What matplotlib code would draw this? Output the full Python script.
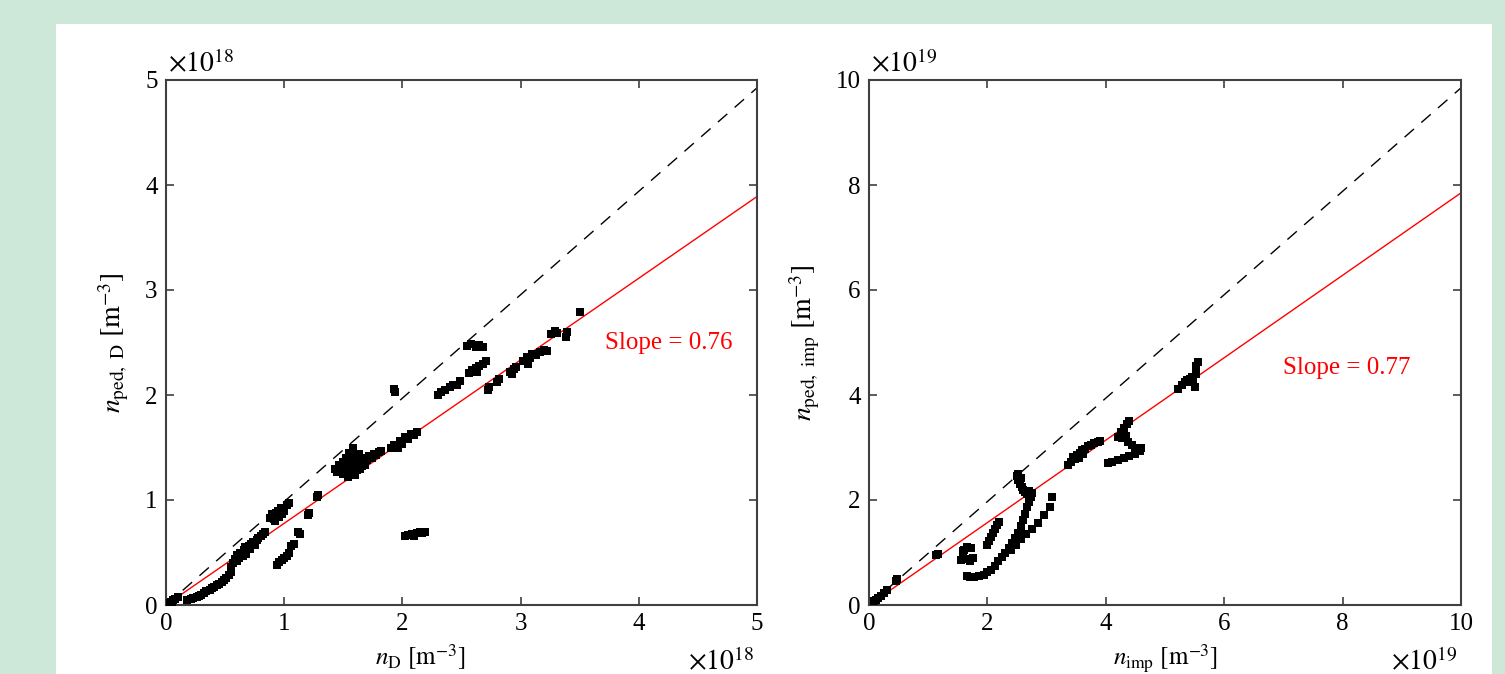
import matplotlib
matplotlib.use("Agg")
import matplotlib.pyplot as plt
from matplotlib.patches import Rectangle
import numpy as np

plt.rcParams['font.family'] = ['Liberation Serif', 'DejaVu Serif']
plt.rcParams['mathtext.fontset'] = 'stix'

# ---------------- data (left panel, units of 1e18 m^-3) ----------------
left_x = [0.02, 0.04, 0.06, 0.08, 0.10, 0.05,
          0.18, 0.21, 0.23, 0.26, 0.28, 0.30, 0.32, 0.34, 0.37, 0.39, 0.41, 0.43, 0.45, 0.47, 0.49, 0.51, 0.53, 0.55,
          0.55, 0.57, 0.58, 0.60, 0.60, 0.62, 0.63, 0.65, 0.66, 0.67, 0.68, 0.70, 0.71, 0.72, 0.74, 0.75, 0.77, 0.78, 0.80, 0.82, 0.84,
          0.88, 0.90, 0.91, 0.93, 0.94, 0.95, 0.96, 0.97, 0.98, 1.00, 1.02, 1.04, 0.92,
          0.94, 0.96, 0.98, 1.00, 1.02, 1.04, 1.06, 1.08, 1.12, 1.13, 1.20, 1.21, 1.28, 1.29,
          1.43, 1.45, 1.46, 1.48, 1.50, 1.50, 1.52, 1.53, 1.54, 1.55, 1.55, 1.57, 1.58, 1.58, 1.60, 1.60, 1.62, 1.63, 1.64, 1.65,
          1.67, 1.68, 1.70, 1.72, 1.74, 1.76, 1.78, 1.80, 1.82, 1.56, 1.62, 1.66,
          1.90, 1.93, 1.96, 1.98, 2.00, 2.02, 2.05, 2.07, 2.10, 2.12,
          1.94, 1.93,
          2.02, 2.05, 2.08, 2.10, 2.12, 2.15, 2.17, 2.19,
          2.30, 2.33, 2.36, 2.40, 2.43, 2.46, 2.49,
          2.55, 2.58, 2.62, 2.65, 2.68,
          2.56, 2.59, 2.62, 2.65, 2.68, 2.71, 2.63,
          2.72, 2.73, 2.80, 2.82,
          2.91, 2.94, 2.96, 2.93,
          3.02, 3.05, 3.08, 3.10, 3.13, 3.16, 3.20, 3.22, 3.06,
          3.26, 3.29, 3.31, 3.38, 3.39,
          3.50]
left_y = [0.02, 0.03, 0.05, 0.06, 0.08, 0.02,
          0.05, 0.06, 0.07, 0.08, 0.09, 0.10, 0.11, 0.13, 0.14, 0.16, 0.17, 0.19, 0.20, 0.22, 0.24, 0.26, 0.29, 0.31,
          0.36, 0.40, 0.44, 0.42, 0.48, 0.45, 0.50, 0.47, 0.52, 0.55, 0.49, 0.56, 0.53, 0.58, 0.60, 0.57, 0.62, 0.64, 0.66, 0.68, 0.70,
          0.83, 0.87, 0.82, 0.88, 0.85, 0.90, 0.84, 0.92, 0.87, 0.90, 0.95, 0.97, 0.80,
          0.38, 0.41, 0.43, 0.45, 0.47, 0.50, 0.56, 0.58, 0.70, 0.68, 0.86, 0.88, 1.03, 1.05,
          1.30, 1.27, 1.33, 1.30, 1.25, 1.36, 1.40, 1.30, 1.22, 1.45, 1.35, 1.28, 1.42, 1.50, 1.32, 1.24, 1.38, 1.44, 1.30, 1.36,
          1.40, 1.33, 1.38, 1.42, 1.40, 1.44, 1.43, 1.46, 1.47, 1.26, 1.29, 1.32,
          1.50, 1.52, 1.50, 1.56, 1.53, 1.60, 1.58, 1.63, 1.62, 1.65,
          2.03, 2.06,
          0.66, 0.67, 0.68, 0.66, 0.69, 0.70, 0.69, 0.70,
          2.00, 2.03, 2.05, 2.08, 2.10, 2.10, 2.13,
          2.47, 2.49, 2.46, 2.48, 2.46,
          2.21, 2.24, 2.26, 2.28, 2.30, 2.32, 2.22,
          2.05, 2.08, 2.12, 2.15,
          2.22, 2.25, 2.27, 2.20,
          2.32, 2.36, 2.35, 2.39, 2.38, 2.41, 2.43, 2.42, 2.30,
          2.58, 2.61, 2.59, 2.55, 2.60,
          2.79]

# ---------------- data (right panel, units of 1e19 m^-3) ----------------
right_x = [0.08, 0.15, 0.20, 0.25, 0.30, 0.12,
           0.45, 0.48, 1.14, 1.17,
           1.55, 1.58, 1.60, 1.65, 1.72, 1.62, 1.70, 1.75, 1.58,
           1.65, 1.70, 1.78, 1.86, 1.94, 2.00, 2.06, 2.12, 2.18, 2.24, 2.30, 2.36, 2.42, 2.47, 2.52, 2.56, 2.60, 2.64, 2.67, 2.70, 2.73, 2.75,
           2.40, 2.48, 2.56, 2.65, 2.75, 2.85, 2.95, 3.05, 3.09,
           2.00, 2.03, 2.06, 2.10, 2.13, 2.16, 2.20,
           2.50, 2.52, 2.55, 2.58, 2.60, 2.63, 2.67, 2.70, 2.52, 2.56,
           3.36, 3.42, 3.48, 3.52, 3.56, 3.60, 3.65, 3.70, 3.75, 3.80, 3.86, 3.90, 3.45, 3.55, 3.62,
           4.20, 4.25, 4.30, 4.35, 4.40, 4.28, 4.34, 4.38, 4.44, 4.50, 4.56, 4.60, 4.58, 4.50, 4.40, 4.30, 4.20, 4.10, 4.04,
           5.22, 5.28, 5.33, 5.38, 5.42, 5.48, 5.50, 5.52, 5.53, 5.55, 5.45]
right_y = [0.07, 0.13, 0.18, 0.22, 0.28, 0.10,
           0.46, 0.50, 0.95, 0.97,
           0.85, 0.95, 1.05, 1.10, 1.08, 0.88, 0.84, 0.90, 1.02,
           0.55, 0.53, 0.54, 0.56, 0.58, 0.62, 0.66, 0.74, 0.83, 0.92, 1.00, 1.08, 1.18, 1.28, 1.38, 1.50, 1.62, 1.74, 1.86, 1.96, 2.06, 2.13,
           1.05, 1.15, 1.25, 1.35, 1.45, 1.57, 1.71, 1.87, 2.06,
           1.15, 1.22, 1.30, 1.38, 1.45, 1.52, 1.58,
           2.45, 2.38, 2.30, 2.25, 2.20, 2.15, 2.12, 2.18, 2.50, 2.42,
           2.66, 2.72, 2.78, 2.85, 2.90, 2.95, 2.98, 3.02, 3.05, 3.08, 3.10, 3.12, 2.82, 2.80, 2.88,
           3.20, 3.30, 3.38, 3.45, 3.50, 3.18, 3.22, 3.10, 3.05, 3.00, 2.97, 3.00, 2.93, 2.88, 2.83, 2.80, 2.76, 2.72, 2.70,
           4.12, 4.20, 4.25, 4.28, 4.30, 4.25, 4.15, 4.40, 4.55, 4.62, 4.35]

left_lim = 5
right_lim = 10
left_slope_drawn = 0.778
right_slope_drawn = 0.785
left_label = "Slope = 0.76"
right_label = "Slope = 0.77"
left_ticks = [0, 1, 2, 3, 4, 5]
right_ticks = [0, 2, 4, 6, 8, 10]

W, H = 1505, 674
fig = plt.figure(figsize=(W / 100, H / 100), dpi=100)
fig.patch.set_facecolor('#cde8d8')
fig.patches.append(Rectangle((56 / W, 0), (1492 - 56) / W, (H - 24) / H,
                             transform=fig.transFigure, facecolor='white',
                             edgecolor='none', zorder=-5))

spine_col = '#404040'


def style(ax, lim, ticks):
    ax.set_xlim(0, lim)
    ax.set_ylim(0, lim)
    ax.set_xticks(ticks)
    ax.set_yticks(ticks)
    ax.set_xticklabels([str(t) for t in ticks])
    ax.set_yticklabels([str(t) for t in ticks])
    ax.tick_params(direction='in', top=True, right=True, length=6, width=1.2,
                   color=spine_col, labelsize=18, pad=6)
    for s in ax.spines.values():
        s.set_color(spine_col)
        s.set_linewidth(1.5)
    ax.set_facecolor('white')


axL = fig.add_axes([166 / W, 1 - 605 / H, 591 / W, 525 / H])
axR = fig.add_axes([869 / W, 1 - 605 / H, 592 / W, 525 / H])
axL.set_zorder(2)
axR.set_zorder(2)

for ax, xs, ys, lim, slope, ticks in [(axL, left_x, left_y, left_lim, left_slope_drawn, left_ticks),
                                     (axR, right_x, right_y, right_lim, right_slope_drawn, right_ticks)]:
    style(ax, lim, ticks)
    ax.plot([0, lim], [0, 0.985 * lim], color='black', lw=1.0, dashes=(9, 7), zorder=2)
    ax.plot([0, lim], [0, slope * lim], color='red', lw=1.0, zorder=2)
    ax.plot(xs, ys, 's', color='black', ms=5.5, mew=0, zorder=3)

axL.text(3.71, 2.5, left_label, color='red', fontsize=18, va='center', ha='left')
axR.text(6.99, 4.51, right_label, color='red', fontsize=18, va='center', ha='left')

axL.set_ylabel(r'$n_{\mathrm{ped,\ D}}\ [\mathrm{m}^{-3}]$', fontsize=20, labelpad=10)
axR.set_ylabel(r'$n_{\mathrm{ped,\ imp}}\ [\mathrm{m}^{-3}]$', fontsize=20, labelpad=10)

fig.text(420 / W, 1 - 642 / H, r'$n_{\mathrm{D}}\ [\mathrm{m}^{-3}]$', fontsize=18, ha='center', va='top', zorder=3)
fig.text(1165 / W, 1 - 642 / H, r'$n_{\mathrm{imp}}\ [\mathrm{m}^{-3}]$', fontsize=18, ha='center', va='top', zorder=3)

# exponent labels
fig.text(168 / W, 1 - 72 / H, r'$\times10^{18}$', fontsize=20, ha='left', va='baseline', zorder=3)
fig.text(871 / W, 1 - 72 / H, r'$\times10^{19}$', fontsize=20, ha='left', va='baseline', zorder=3)
fig.text(688 / W, 1 - 670 / H, r'$\times10^{18}$', fontsize=20, ha='left', va='baseline', zorder=3)
fig.text(1391 / W, 1 - 670 / H, r'$\times10^{19}$', fontsize=20, ha='left', va='baseline', zorder=3)

fig.savefig('out.png', dpi=100, facecolor=fig.get_facecolor())
